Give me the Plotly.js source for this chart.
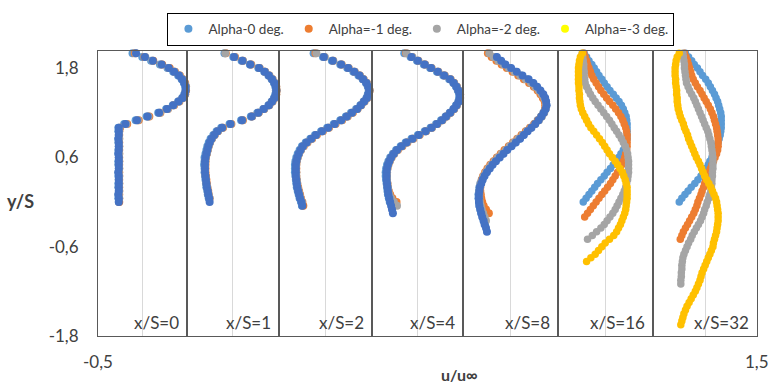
<!DOCTYPE html>
<html>
<head>
<meta charset="utf-8">
<script src="https://cdn.plot.ly/plotly-3.0.1.min.js"></script>
<style>html,body{margin:0;padding:0;background:#fff;}#chart{width:772px;height:386px;}</style>
</head>
<body>
<div id="chart"></div>
<script>
// shared y/S sampling positions (top to bottom)
const yPos = [2.00,1.95,1.90,1.85,1.80,1.75,1.70,1.65,1.60,1.55,1.50,1.45,1.40,1.35,1.30,1.25,1.20,1.15,1.10,1.05,1.00,0.95,0.90,0.85,0.80,0.75,0.70,0.65,0.60,0.55,0.50,0.45,0.40,0.35,0.30,0.25,0.20,0.15,0.10,0.05,0.00,-0.05,-0.10,-0.15,-0.20,-0.25,-0.30,-0.35,-0.40,-0.45,-0.50,-0.55,-0.60,-0.65,-0.70,-0.75,-0.80,-0.85,-0.90,-0.95,-1.00,-1.05,-1.10,-1.15,-1.20,-1.25,-1.30,-1.35,-1.40,-1.45,-1.50,-1.55,-1.60,-1.65];

const seriesNames = ['Alpha-0 deg.','Alpha=-1 deg.','Alpha=-2 deg.','Alpha=-3 deg.'];
const panelLabels = ['x/S=0','x/S=1','x/S=2','x/S=4','x/S=8','x/S=16','x/S=32'];
const yTickVals = [-1.8,-0.6,0.6,1.8];
const yTickText = ['-1,8','-0,6','0,6','1,8'];
const xTickVals = [-0.5,1.5];
const xTickText = ['-0,5','1,5'];

// x/S = 0
const p0_a0 = [0.28,0.50,0.70,0.90,1.07,1.20,1.31,1.39,1.44,1.47,1.48,1.45,1.40,1.31,1.19,1.04,0.86,0.60,0.35,0.09,-0.04,-0.04,-0.03,-0.04,-0.04,-0.03,-0.04,-0.04,-0.03,-0.04,-0.04,-0.03,-0.04,-0.04,-0.03,-0.04,-0.04,-0.03,-0.04,-0.04,-0.03];
const p0_a1 = [0.33,0.55,0.75,0.95,1.12,1.24,1.35,1.42,1.47,1.49,1.49,1.47,1.42,1.34,1.22,1.08,0.91,0.66,0.42,0.16,0.00,-0.02,-0.02,-0.02,-0.02,-0.02,-0.02,-0.02,-0.02,-0.02,-0.02,-0.02,-0.02,-0.02,-0.02,-0.02,-0.02,-0.02,-0.02,-0.02,-0.02];
const p0_a2 = [0.35,0.57,0.73,0.93,1.09,1.23,1.34,1.41,1.46,1.49,1.48,1.47,1.42,1.33,1.21,1.08,0.90,0.64,0.40,0.14,-0.01,-0.02,-0.03,-0.02,-0.03,-0.02,-0.03,-0.02,-0.03,-0.02,-0.03,-0.02,-0.03,-0.02,-0.03,-0.02,-0.03,-0.02,-0.03,-0.02];
const p0_a3 = [0.36,0.56,0.74,0.94,1.10,1.22,1.33,1.40,1.45,1.48,1.48,1.46,1.41,1.32,1.20,1.06,0.88,0.62,0.38,0.12,-0.03,-0.03,-0.03,-0.04,-0.03,-0.03,-0.03,-0.04,-0.03,-0.03,-0.03,-0.03,-0.04,-0.03,-0.03,-0.03,-0.03,-0.03,-0.04,-0.03,-0.03];

// x/S = 1
const p1_a0 = [0.32,0.51,0.69,0.87,1.05,1.18,1.27,1.34,1.39,1.42,1.43,1.42,1.39,1.34,1.27,1.16,1.03,0.89,0.68,0.43,0.25,0.15,0.08,0.02,-0.02,-0.05,-0.07,-0.09,-0.11,-0.11,-0.12,-0.11,-0.11,-0.10,-0.09,-0.08,-0.07,-0.05,-0.04,-0.02];
const p1_a1 = [0.35,0.55,0.72,0.90,1.08,1.20,1.29,1.36,1.41,1.44,1.45,1.44,1.41,1.36,1.29,1.18,1.06,0.92,0.72,0.47,0.29,0.18,0.11,0.05,0.01,-0.02,-0.04,-0.06,-0.08,-0.09,-0.09,-0.09,-0.09,-0.08,-0.07,-0.06,-0.05,-0.03,-0.02,0.00];
const p1_a2 = [0.34,0.54,0.72,0.89,1.08,1.20,1.29,1.36,1.41,1.44,1.45,1.44,1.41,1.36,1.29,1.18,1.06,0.92,0.71,0.46,0.28,0.18,0.11,0.05,0.01,-0.02,-0.04,-0.06,-0.08,-0.09,-0.10,-0.10,-0.10,-0.09,-0.08,-0.07,-0.05,-0.04,-0.02,0.00];
const p1_a3 = [null,0.53,0.71,0.88,1.07,1.19,1.28,1.35,1.40,1.43,1.44,1.43,1.40,1.35,1.28,1.17,1.05,0.91,0.70,0.45,0.27,0.17,0.10,0.04,0.00,-0.03,-0.05,-0.07,-0.09,-0.10,-0.10,-0.10,-0.10,-0.09,-0.08,-0.07,-0.06,-0.04,-0.03,-0.01,0.00];

// x/S = 2
const p2_a0 = [0.24,0.44,0.63,0.81,0.96,1.09,1.20,1.29,1.36,1.40,1.42,1.40,1.37,1.31,1.24,1.15,1.04,0.93,0.81,0.67,0.53,0.40,0.27,0.17,0.07,-0.01,-0.06,-0.10,-0.13,-0.15,-0.16,-0.16,-0.16,-0.15,-0.14,-0.13,-0.12,-0.10,-0.08,-0.06,-0.03,-0.01];
const p2_a1 = [0.28,0.47,0.66,0.84,0.99,1.12,1.23,1.31,1.38,1.42,1.44,1.42,1.39,1.33,1.26,1.18,1.08,0.97,0.85,0.71,0.57,0.44,0.31,0.21,0.11,0.03,-0.03,-0.07,-0.10,-0.12,-0.13,-0.13,-0.13,-0.13,-0.12,-0.11,-0.09,-0.07,-0.05,-0.03,0.00,0.02];
const p2_a2 = [0.30,0.48,0.66,0.84,0.99,1.12,1.23,1.31,1.38,1.42,1.44,1.42,1.39,1.33,1.26,1.18,1.07,0.96,0.84,0.70,0.56,0.43,0.30,0.20,0.10,0.02,-0.03,-0.07,-0.10,-0.12,-0.13,-0.14,-0.13,-0.13,-0.12,-0.11,-0.10,-0.08,-0.06,-0.04,-0.01];
const p2_a3 = [null,0.46,0.65,0.83,0.98,1.11,1.22,1.30,1.37,1.41,1.43,1.41,1.38,1.32,1.25,1.17,1.06,0.95,0.83,0.69,0.55,0.42,0.29,0.19,0.09,0.01,-0.04,-0.08,-0.11,-0.13,-0.14,-0.14,-0.14,-0.14,-0.13,-0.12,-0.11,-0.09,-0.07,-0.05,-0.02,0.00];

// x/S = 4
const p3_a0 = [0.20,0.34,0.48,0.63,0.77,0.92,1.06,1.19,1.28,1.34,1.38,1.41,1.41,1.39,1.34,1.28,1.20,1.11,1.01,0.90,0.78,0.65,0.50,0.36,0.23,0.12,0.02,-0.05,-0.11,-0.15,-0.18,-0.20,-0.21,-0.21,-0.20,-0.19,-0.18,-0.17,-0.16,-0.14,-0.12];
const p3_a1 = [0.24,0.37,0.51,0.66,0.80,0.95,1.09,1.22,1.30,1.36,1.40,1.43,1.43,1.41,1.36,1.30,1.22,1.13,1.04,0.93,0.81,0.68,0.54,0.40,0.27,0.16,0.06,-0.02,-0.08,-0.12,-0.15,-0.17,-0.18,-0.18,-0.18,-0.17,-0.16,-0.14,-0.11,-0.06,0.03];
const p3_a2 = [0.25,0.38,0.51,0.66,0.80,0.95,1.09,1.22,1.30,1.36,1.40,1.43,1.43,1.41,1.36,1.30,1.22,1.13,1.04,0.93,0.81,0.68,0.53,0.39,0.26,0.15,0.05,-0.02,-0.08,-0.12,-0.15,-0.17,-0.18,-0.18,-0.18,-0.17,-0.16,-0.15,-0.13,-0.09,-0.03,0.04];
const p3_a3 = [null,0.36,0.50,0.65,0.79,0.94,1.08,1.21,1.29,1.35,1.39,1.42,1.42,1.40,1.35,1.29,1.21,1.12,1.03,0.92,0.80,0.67,0.52,0.38,0.25,0.14,0.04,-0.03,-0.09,-0.13,-0.16,-0.18,-0.19,-0.19,-0.19,-0.18,-0.17,-0.16,-0.15,-0.13,-0.11,-0.09,-0.07,-0.05];

// x/S = 8
const p4_a0 = [null,0.18,0.27,0.37,0.48,0.60,0.72,0.85,0.96,1.04,1.11,1.17,1.22,1.24,1.25,1.23,1.19,1.14,1.07,1.00,0.92,0.84,0.76,0.68,0.59,0.50,0.41,0.33,0.25,0.17,0.10,0.04,-0.02,-0.07,-0.11,-0.14,-0.16,-0.17,-0.18,-0.18,-0.17,-0.16,-0.14,-0.12,-0.09,-0.07,-0.04];
const p4_a1 = [0.02,0.10,0.20,0.31,0.42,0.54,0.66,0.78,0.89,0.99,1.07,1.13,1.18,1.22,1.23,1.23,1.20,1.15,1.08,1.00,0.91,0.82,0.73,0.64,0.55,0.46,0.37,0.29,0.21,0.14,0.07,0.01,-0.04,-0.08,-0.11,-0.13,-0.14,-0.14,-0.13,-0.12,-0.10,-0.07,-0.02,0.04];
const p4_a2 = [0.05,0.14,0.24,0.35,0.46,0.58,0.70,0.82,0.93,1.02,1.10,1.16,1.21,1.24,1.25,1.24,1.21,1.16,1.10,1.02,0.93,0.84,0.75,0.66,0.57,0.48,0.40,0.31,0.23,0.16,0.09,0.03,-0.02,-0.07,-0.10,-0.13,-0.15,-0.16,-0.16,-0.16,-0.15,-0.13,-0.11,-0.08,-0.05,-0.02];
const p4_a3 = [null,0.21,0.30,0.39,0.51,0.63,0.75,0.88,0.98,1.06,1.13,1.19,1.23,1.25,1.26,1.24,1.20,1.15,1.09,1.02,0.94,0.86,0.78,0.70,0.61,0.52,0.43,0.35,0.27,0.19,0.12,0.06,0.00,-0.05,-0.09,-0.12,-0.15,-0.16,-0.17,-0.17,-0.17,-0.16,-0.14,-0.12,-0.10,-0.07,-0.05,-0.02,0.00];

// x/S = 16
const p5_a0 = [0.05,0.10,0.15,0.21,0.26,0.31,0.36,0.42,0.47,0.53,0.59,0.66,0.72,0.78,0.83,0.87,0.90,0.93,0.94,0.95,0.95,0.95,0.95,0.95,0.93,0.91,0.87,0.82,0.77,0.72,0.66,0.60,0.53,0.47,0.40,0.33,0.27,0.21,0.15,0.09,0.03];
const p5_a1 = [0.04,0.07,0.10,0.12,0.15,0.18,0.21,0.25,0.30,0.35,0.40,0.46,0.52,0.58,0.65,0.71,0.77,0.82,0.86,0.89,0.92,0.94,0.95,0.95,0.95,0.95,0.94,0.92,0.90,0.87,0.84,0.80,0.75,0.70,0.65,0.60,0.54,0.48,0.42,0.36,0.30,0.24,0.18,0.12,0.06];
const p5_a2 = [0.01,0.02,0.03,0.04,0.04,0.05,0.05,0.06,0.07,0.10,0.14,0.18,0.23,0.28,0.34,0.40,0.46,0.52,0.58,0.63,0.68,0.73,0.78,0.83,0.87,0.91,0.94,0.96,0.97,0.98,0.98,0.98,0.98,0.97,0.96,0.94,0.92,0.89,0.86,0.82,0.78,0.74,0.70,0.65,0.59,0.53,0.47,0.40,0.31,0.22,0.12];
const p5_a3 = [0.01,-0.03,-0.05,-0.06,-0.07,-0.07,-0.07,-0.07,-0.07,-0.06,-0.06,-0.05,-0.05,-0.04,-0.03,-0.01,0.02,0.06,0.10,0.14,0.19,0.25,0.31,0.37,0.43,0.48,0.53,0.58,0.64,0.70,0.75,0.80,0.85,0.88,0.91,0.93,0.95,0.95,0.95,0.95,0.94,0.93,0.92,0.90,0.87,0.84,0.81,0.77,0.73,0.67,0.58,0.49,0.42,0.35,0.28,0.19,0.10];

// x/S = 32
const p6_a0 = [0.12,0.18,0.24,0.29,0.35,0.40,0.45,0.51,0.56,0.60,0.64,0.68,0.71,0.74,0.76,0.78,0.80,0.81,0.81,0.81,0.81,0.80,0.79,0.77,0.75,0.72,0.69,0.66,0.63,0.59,0.56,0.51,0.46,0.42,0.36,0.30,0.23,0.17,0.11,0.05,0.00];
const p6_a1 = [0.10,0.13,0.16,0.18,0.20,0.22,0.24,0.27,0.31,0.35,0.40,0.44,0.48,0.52,0.56,0.60,0.63,0.66,0.68,0.70,0.72,0.73,0.74,0.75,0.75,0.75,0.74,0.72,0.69,0.66,0.63,0.60,0.57,0.54,0.51,0.49,0.47,0.44,0.42,0.39,0.36,0.34,0.31,0.28,0.24,0.20,0.16,0.12,0.08,0.05,0.02];
const p6_a2 = [0.07,0.08,0.09,0.10,0.10,0.11,0.12,0.13,0.14,0.17,0.20,0.24,0.28,0.31,0.34,0.37,0.40,0.43,0.46,0.49,0.52,0.55,0.57,0.59,0.61,0.62,0.63,0.64,0.65,0.65,0.65,0.65,0.64,0.64,0.63,0.63,0.62,0.61,0.59,0.57,0.54,0.52,0.49,0.47,0.44,0.41,0.37,0.33,0.29,0.25,0.22,0.18,0.15,0.12,0.09,0.07,0.06,0.05,0.05,0.04,0.04,0.03,0.03];
const p6_a3 = [0.00,-0.04,-0.06,-0.07,-0.08,-0.08,-0.08,-0.07,-0.07,-0.06,-0.05,-0.05,-0.04,-0.04,-0.03,-0.02,0.00,0.02,0.05,0.08,0.10,0.13,0.16,0.18,0.21,0.24,0.27,0.30,0.33,0.37,0.40,0.43,0.46,0.49,0.53,0.57,0.61,0.64,0.67,0.70,0.72,0.73,0.74,0.75,0.75,0.75,0.74,0.73,0.72,0.70,0.68,0.66,0.65,0.62,0.59,0.56,0.53,0.50,0.47,0.44,0.42,0.40,0.37,0.34,0.31,0.27,0.23,0.19,0.15,0.12,0.09,0.07,0.05,0.03];

const panels = [
  [p0_a0,p0_a1,p0_a2,p0_a3],
  [p1_a0,p1_a1,p1_a2,p1_a3],
  [p2_a0,p2_a1,p2_a2,p2_a3],
  [p3_a0,p3_a1,p3_a2,p3_a3],
  [p4_a0,p4_a1,p4_a2,p4_a3],
  [p5_a0,p5_a1,p5_a2,p5_a3],
  [p6_a0,p6_a1,p6_a2,p6_a3]
];

const seriesColors = ['#5B9BD5','#ED7D31','#A5A5A5','#FFC000'];
const nearWakeTopColor = '#4472C4';
const legendColors = ['#5B9BD5','#ED7D31','#A5A5A5','#FFFF00'];
const domEdges = [0,0.1343,0.2747,0.4165,0.5543,0.6980,0.8427,1];
const FONT = 'Lato, "Open Sans", "Liberation Sans", sans-serif';
const TXT = '#404040';

const traces = [];
panels.forEach((series, i) => {
  const xa = i === 0 ? 'x' : 'x' + (i + 1);
  series.forEach((xs, s) => {
    let color = seriesColors[s];
    if (s === 3 && i < 5) color = nearWakeTopColor;
    traces.push({
      type: 'scatter', mode: 'markers',
      x: xs, y: yPos.slice(0, xs.length),
      xaxis: xa, yaxis: 'y',
      name: seriesNames[s], showlegend: false, cliponaxis: false,
      marker: {color: color, size: i < 5 ? 8 : 7.5},
      hoverinfo: 'x+y'
    });
  });
});
seriesNames.forEach((n, s) => {
  traces.push({type: 'scatter', mode: 'markers', x: [null], y: [null],
    xaxis: 'x', yaxis: 'y', name: n, showlegend: true,
    marker: {color: legendColors[s], size: 8}});
});

const layout = {
  width: 772, height: 386,
  margin: {l: 98, r: 15, t: 48, b: 50},
  paper_bgcolor: '#ffffff', plot_bgcolor: 'rgba(0,0,0,0)',
  font: {family: FONT, size: 17, color: TXT},
  showlegend: true,
  legend: {orientation: 'h', x: 0.49, xanchor: 'center', y: 1.135, yanchor: 'top',
    bordercolor: '#000000', borderwidth: 1, bgcolor: '#ffffff', itemwidth: 30,
    font: {family: FONT, size: 13.5, color: TXT}},
  yaxis: {range: [-1.8, 2.03], tickmode: 'array', tickvals: yTickVals, ticktext: yTickText,
    ticks: '', ticklabelstandoff: 15, showgrid: false, zeroline: false,
    showline: true, mirror: 'all', linecolor: '#595959', linewidth: 1,
    tickfont: {family: FONT, size: 17, color: TXT}},
  annotations: [
    {xref: 'paper', yref: 'paper', x: -0.117, y: 0.472, xanchor: 'center', yanchor: 'middle',
     text: '<b>y/S</b>', showarrow: false, font: {family: FONT, size: 18, color: TXT}},
    {xref: 'paper', yref: 'paper', x: 0.549, y: -0.175, xanchor: 'center', yanchor: 'bottom',
     text: '<b>u/u∞</b>', showarrow: false, font: {family: FONT, size: 16, color: TXT}}
  ]
};
// overall u/u∞ tick labels at the ends of the shared scale
xTickVals.forEach((v, k) => {
  layout.annotations.push({xref: 'paper', yref: 'paper', x: (v + 0.5) / 2, y: -0.09,
    xanchor: 'center', yanchor: 'middle', text: xTickText[k], showarrow: false,
    font: {family: FONT, size: 17, color: TXT}});
});
for (let i = 0; i < 7; i++) {
  const key = i === 0 ? 'xaxis' : 'xaxis' + (i + 1);
  const ref = i === 0 ? 'x' : 'x' + (i + 1);
  layout[key] = {domain: [domEdges[i], domEdges[i + 1]], range: [-0.5, 1.5], anchor: 'y',
    tickmode: 'array', tickvals: [0.5], showticklabels: false, ticks: '',
    showgrid: true, gridcolor: '#d9d9d9', gridwidth: 1, zeroline: false,
    showline: true, mirror: true, linecolor: '#595959', linewidth: 1};
  layout.annotations.push({xref: ref + ' domain', yref: 'y domain', x: 1, y: 0,
    xanchor: 'right', yanchor: 'bottom', xshift: -6, yshift: 1, showarrow: false,
    text: panelLabels[i], font: {family: FONT, size: 17, color: TXT}});
}

Plotly.newPlot('chart', traces, layout, {displayModeBar: false, staticPlot: true});
</script>
</body>
</html>
